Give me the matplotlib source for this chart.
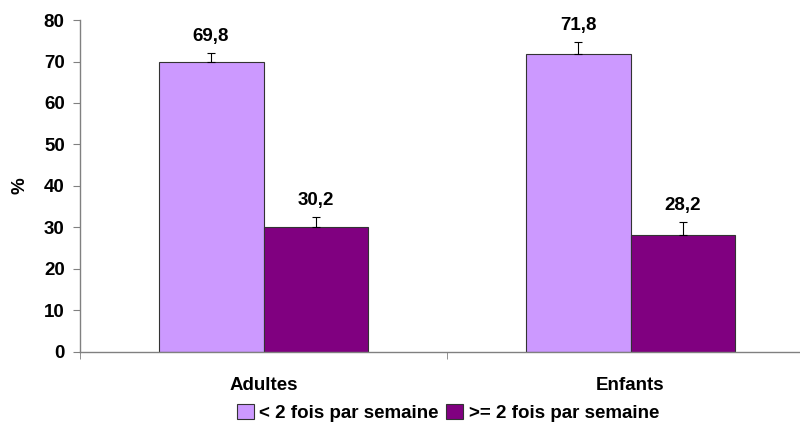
import numpy as np
import matplotlib.pyplot as plt

plt.rcParams['font.family'] = ['Liberation Sans', 'DejaVu Sans']
plt.rcParams['font.weight'] = 'bold'

groups = ['Adultes', 'Enfants']
series = ['< 2 fois par semaine', '>= 2 fois par semaine']
low = [69.8, 71.8]
high = [30.2, 28.2]
low_err = [2.2, 2.8]
high_err = [2.2, 3.0]
labels_low = ['69,8', '71,8']
labels_high = ['30,2', '28,2']

colors = ['#CC99FF', '#800080']
fs = 13.5

fig = plt.figure(figsize=(8, 4.26), dpi=100)
ax = fig.add_axes([0.1, 0.174, 0.9175, 0.779])

x = np.arange(len(groups))
w = 0.286

ax.bar(x - w / 2, low, w, color=colors[0], edgecolor='#333333', linewidth=0.8, label=series[0])
ax.bar(x + w / 2, high, w, color=colors[1], edgecolor='#333333', linewidth=0.8, label=series[1])
ax.errorbar(x - w / 2, low, yerr=[np.zeros(2), low_err], fmt='none', ecolor='black',
            elinewidth=0.8, capsize=3, capthick=0.8)
ax.errorbar(x + w / 2, high, yerr=[np.zeros(2), high_err], fmt='none', ecolor='black',
            elinewidth=0.8, capsize=3, capthick=0.8)

for i in range(len(groups)):
    ax.text(x[i] - w / 2, low[i] + low_err[i] + 2.0, labels_low[i], ha='center', va='bottom',
            fontsize=fs, fontweight='bold')
    ax.text(x[i] + w / 2, high[i] + high_err[i] + 2.0, labels_high[i], ha='center', va='bottom',
            fontsize=fs, fontweight='bold')

ax.set_xlim(-0.5, 1.5)
ax.set_ylim(0, 80)
ax.set_yticks(range(0, 81, 10))
ax.set_xticks(x)
ax.set_xticklabels(groups, fontsize=fs, fontweight='bold')
ax.set_xticks([-0.5, 0.5, 1.5], minor=True)
ax.tick_params(axis='x', which='major', length=0, pad=18)
ax.tick_params(axis='x', which='minor', length=5, color='#808080', direction='out')
ax.tick_params(axis='y', labelsize=fs, length=5, color='#808080', pad=6)
for lab in ax.get_yticklabels():
    lab.set_fontweight('bold')

for s in ['top', 'right']:
    ax.spines[s].set_visible(False)
for s in ['left', 'bottom']:
    ax.spines[s].set_color('#808080')
    ax.spines[s].set_linewidth(1)

ax.set_ylabel('%', fontsize=fs, fontweight='bold', labelpad=11)

fig.legend(loc='center', bbox_to_anchor=(0.56, 0.031), ncol=2, frameon=False,
           handlelength=0.9, handleheight=0.9, handletextpad=0.3,
           columnspacing=0.4, prop={'weight': 'bold', 'size': fs})

fig.savefig('out.png', dpi=100)
